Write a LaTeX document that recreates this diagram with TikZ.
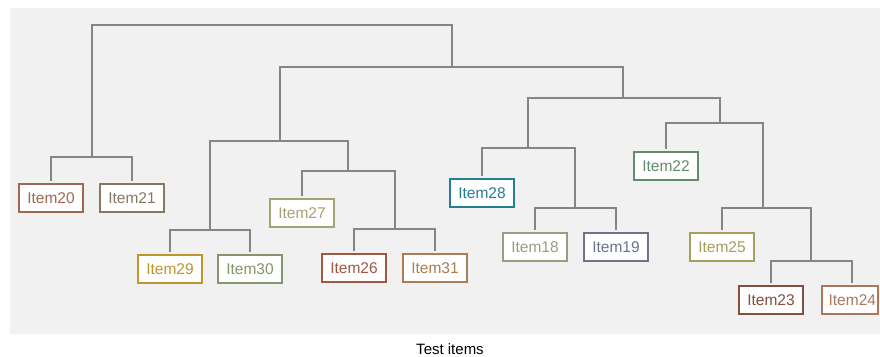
\documentclass[tikz,border=0pt]{standalone}
\usepackage{fontspec}
\setmainfont{Liberation Sans}
\begin{document}
\begin{tikzpicture}[x=1pt,y=-1pt,
  itembox/.style={draw=#1, text=#1, fill=white, line width=1.8pt, minimum width=64pt, minimum height=28pt, inner sep=0pt, font=\fontsize{15.5}{18}\selectfont},
  link/.style={draw=black!48, line width=1.2pt, shorten >=2pt, shorten <=2pt},
  trunk/.style={draw=black!48, line width=1.2pt}]
\definecolor{c20}{RGB}{163,102,82}
\definecolor{c21}{RGB}{135,120,100}
\definecolor{c29}{RGB}{190,150,45}
\definecolor{c30}{RGB}{132,148,108}
\definecolor{c27}{RGB}{165,162,115}
\definecolor{c26}{RGB}{160,88,66}
\definecolor{c31}{RGB}{170,125,85}
\definecolor{c28}{RGB}{35,128,145}
\definecolor{c18}{RGB}{152,158,128}
\definecolor{c19}{RGB}{108,115,138}
\definecolor{c22}{RGB}{98,140,108}
\definecolor{c25}{RGB}{165,160,92}
\definecolor{c23}{RGB}{130,78,62}
\definecolor{c24}{RGB}{170,120,95}
\useasboundingbox (0,0) rectangle (880,356);
\fill[color={rgb,255:red,241;green,241;blue,241}] (10,8) rectangle (880,334);

% junction coordinates
\coordinate (Jroot) at (272,25);
\coordinate (J2021) at (92,157);
\coordinate (Jbig) at (452,67);
\coordinate (Jl) at (280,141);
\coordinate (J2930) at (210,230);
\coordinate (J27) at (348,171);
\coordinate (J2631) at (395,229);
\coordinate (Jr) at (623,98);
\coordinate (J28) at (528,148);
\coordinate (J1819) at (575,208);
\coordinate (J22) at (720,123);
\coordinate (J25) at (763,208);
\coordinate (J2324) at (811,261);

% items
\node[itembox=c20] (n20) at (51,198) {Item20};
\node[itembox=c21] (n21) at (132,198) {Item21};
\node[itembox=c29] (n29) at (170,269) {Item29};
\node[itembox=c30] (n30) at (250,269) {Item30};
\node[itembox=c27] (n27) at (302,213) {Item27};
\node[itembox=c26] (n26) at (354,268) {Item26};
\node[itembox=c31] (n31) at (435,268) {Item31};
\node[itembox=c28] (n28) at (482,193) {Item28};
\node[itembox=c18] (n18) at (535,247) {Item18};
\node[itembox=c19] (n19) at (616,247) {Item19};
\node[itembox=c22] (n22) at (666,166) {Item22};
\node[itembox=c25] (n25) at (722,247) {Item25};
\node[itembox=c23] (n23) at (771,300) {Item23};
\node[itembox=c24, minimum width=56pt, text width=52pt, align=right, inner xsep=2pt] (n24) at (850,300) {Item24};

% connectors
\draw[trunk] (J2021) |- (Jroot) -| (Jbig);
\draw[trunk] (Jl) |- (Jbig) -| (Jr);
\draw[trunk] (J28) |- (Jr) -| (J22);
\draw[trunk] (J2930) |- (Jl) -| (J27);
\draw[link] (n20.north) |- (J2021) -| (n21.north);
\draw[link] (n29.north) |- (J2930) -| (n30.north);
\draw[link, shorten >=0pt] (n27.north) |- (J27) -| (J2631);
\draw[link] (n26.north) |- (J2631) -| (n31.north);
\draw[link, shorten >=0pt] (n28.north) |- (J28) -| (J1819);
\draw[link] (n18.north) |- (J1819) -| (n19.north);
\draw[link, shorten >=0pt] (n22.north) |- (J22) -| (J25);
\draw[link, shorten >=0pt] (n25.north) |- (J25) -| (J2324);
\draw[link] (n23.north) |- (J2324) -| ([xshift=2pt]n24.north);

\node[font=\fontsize{15}{18}\selectfont] (title) at (450,349) {Test items};
\end{tikzpicture}
\end{document}
